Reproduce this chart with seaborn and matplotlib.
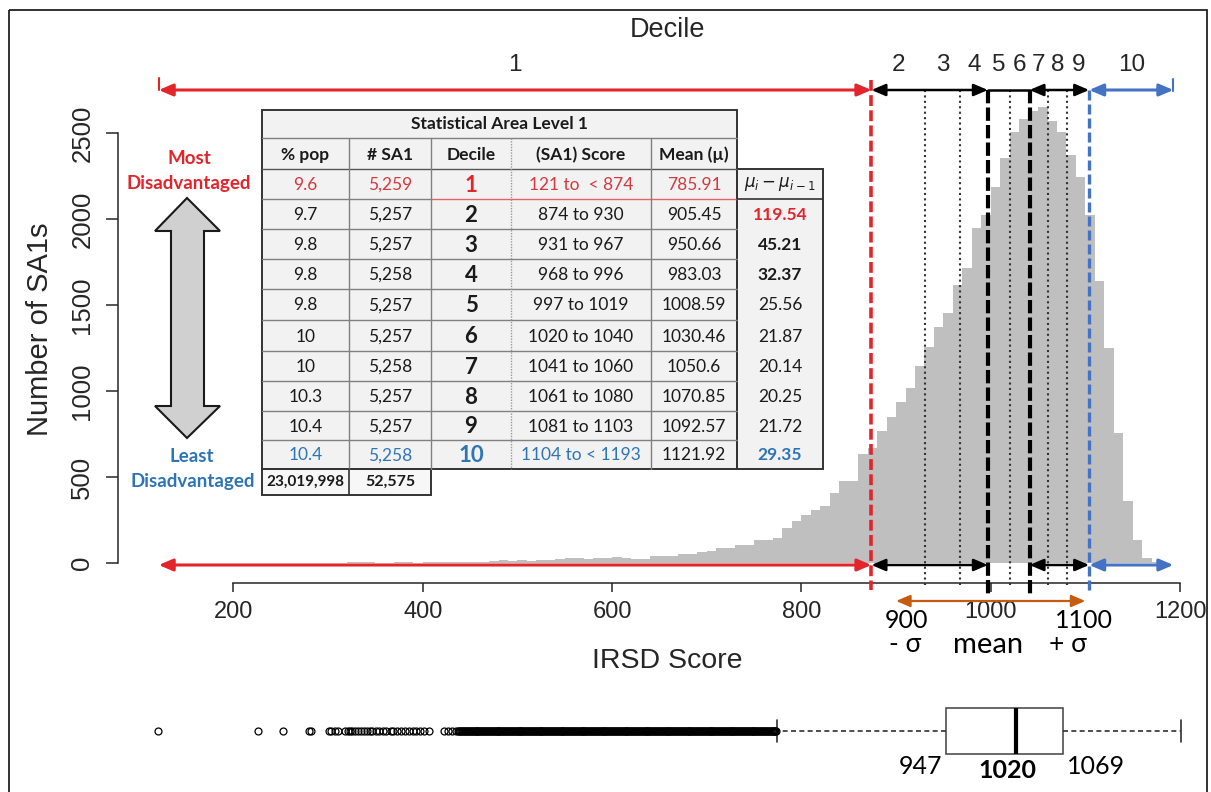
import numpy as np
import pandas as pd
import matplotlib
matplotlib.use("Agg")
import matplotlib.pyplot as plt
import seaborn as sns
from matplotlib.transforms import Affine2D, blended_transform_factory
from matplotlib.patches import Rectangle, Polygon
from matplotlib.lines import Line2D

# ---------------- data ----------------
bin_starts = list(range(120, 1200, 10))
counts = [
    1, 0, 0, 0, 0, 0, 0, 0,                                   # 120-190
    0, 0, 1, 0, 0, 1, 0, 0, 2, 0,                             # 200-290
    4, 3, 5, 5, 5, 4, 4, 5, 5, 4,                             # 300-390
    5, 10, 6, 10, 6, 8, 8, 12, 18, 15,                        # 400-490
    20, 15, 22, 20, 25, 32, 28, 25, 28, 32,                   # 500-590
    38, 32, 25, 23, 40, 43, 43, 52, 57, 65,                   # 600-690
    72, 87, 87, 107, 107, 136, 136, 150, 208, 246,            # 700-790
    281, 310, 333, 407, 478, 478, 634, 669, 769, 849,         # 800-890
    940, 1021, 1149, 1256, 1375, 1457, 1618, 1715, 1948, 2025,  # 900-990
    2190, 2355, 2510, 2581, 2632, 2655, 2573, 2510, 2374, 2248,  # 1000-1090
    2025, 1643, 1250, 759, 362, 135, 29, 8, 3, 1,             # 1100-1190
]

score_min, score_max = 121, 1193
decile_starts = [874, 931, 968, 997, 1020, 1041, 1061, 1081, 1104]
decile_labels = ["1", "2", "3", "4", "5", "6", "7", "8", "9", "10"]

pct_pop = ["9.6", "9.7", "9.8", "9.8", "9.8", "10", "10", "10.3", "10.4", "10.4"]
n_sa1 = ["5,259", "5,257", "5,257", "5,258", "5,257", "5,257", "5,258", "5,257", "5,257", "5,258"]
score_ranges = ["121 to  < 874", "874 to 930", "931 to 967", "968 to 996", "997 to 1019",
                "1020 to 1040", "1041 to 1060", "1061 to 1080", "1081 to 1103", "1104 to < 1193"]
means = ["785.91", "905.45", "950.66", "983.03", "1008.59", "1030.46", "1050.6",
         "1070.85", "1092.57", "1121.92"]
mean_diffs = ["119.54", "45.21", "32.37", "25.56", "21.87", "20.14", "20.25", "21.72", "29.35"]
totals = ["23,019,998", "52,575"]

sigma_marks = [900, 1100]
box_q1, box_med, box_q3 = 947, 1020, 1069
box_whislo, box_whishi = 770, 1193
sparse_outliers = [121, 226, 252, 280, 282, 300, 303, 307, 310, 317, 320, 322, 325, 328,
                   331, 334, 337, 340, 343, 346, 350, 353, 357, 360, 365, 368, 372, 376,
                   380, 384, 389, 392, 396, 400, 405, 421, 425, 429, 433]
dense_outlier_range = (436, 769)   # every integer score in this range is an outlier

# ---------------- style ----------------
sns.set_theme(style="ticks")
plt.rcParams["font.family"] = ["Liberation Sans", "DejaVu Sans"]
CAL = ["Lato", "DejaVu Sans"]
RED = "#e3242b"
RED_T = "#d33a3f"
BLUE = "#4472c4"
BLUE_T = "#2e75b6"
ORANGE = "#c55a11"
TXT = "#262626"

W, H = 1211, 792
fig = plt.figure(figsize=(W / 100, H / 100), dpi=100)
fig.patch.set_facecolor("white")
TP = Affine2D().scale(1 / W, -1 / H).translate(0, 1) + fig.transFigure

# ---------------- histogram ----------------
ax = fig.add_axes([118 / W, 1 - 583 / H, (1200 - 118) / W, (583 - 20) / H])
df = pd.DataFrame({"score": np.array(bin_starts) + 5, "n": counts})
edges = bin_starts + [bin_starts[-1] + 10]
sns.histplot(data=df, x="score", weights="n", bins=edges, color="#bfbfbf",
             alpha=1, edgecolor="none", linewidth=0, ax=ax)
ax.set_xlim(78.0, 1221.1)
ax.set_ylim(-114.5, 3158.7)
ax.set_facecolor("none")
for s in ["top", "right"]:
    ax.spines[s].set_visible(False)
ax.spines["left"].set_bounds(0, 2500)
ax.spines["bottom"].set_bounds(200, 1200)
for s in ["left", "bottom"]:
    ax.spines[s].set_color(TXT)
    ax.spines[s].set_linewidth(1.1)
ax.set_xticks([200, 400, 600, 800, 1000, 1200])
ax.set_yticks([0, 500, 1000, 1500, 2000, 2500])
ax.tick_params(axis="x", direction="out", length=6.5, width=1.1, pad=6.5,
               labelsize=17, colors=TXT)
ax.tick_params(axis="y", direction="out", length=9, width=1.1, pad=8,
               labelsize=18.5, colors=TXT, labelrotation=90)
for lab in ax.get_yticklabels():
    lab.set_verticalalignment("center")
ax.set_xlabel("IRSD Score", fontsize=20.5, color=TXT)
ax.xaxis.set_label_coords(667, 648, transform=TP)
ax.set_ylabel("Number of SA1s", fontsize=21, color=TXT)
ax.yaxis.set_label_coords(54, 329, transform=TP)

blend = blended_transform_factory(ax.transData, TP)

# decile boundary lines
for b in decile_starts:
    if b == decile_starts[0]:
        ax.plot([b, b], [80, 590], transform=blend, clip_on=False, color=RED, lw=2.6,
                ls=(0, (3, 1.2)), zorder=5)
    elif b == decile_starts[-1]:
        ax.plot([b, b], [90, 594], transform=blend, clip_on=False, color=BLUE, lw=2.4,
                ls=(0, (3, 1.2)), zorder=5)
    elif b in (decile_starts[3], decile_starts[5]):
        ax.plot([b, b], [90, 594], transform=blend, clip_on=False, color="black", lw=3,
                ls=(0, (3.2, 1)), zorder=5)
    else:
        ax.plot([b, b], [90, 585], transform=blend, clip_on=False, color="#333333", lw=1.5,
                ls=(0, (1, 1.6)), zorder=5)


def darrow(x0, x1, y, color, lw=2.0, style="<|-|>"):
    ax.annotate("", xy=(x1, y), xytext=(x0, y), xycoords=blend, textcoords=blend,
                arrowprops=dict(arrowstyle=style + ",head_length=0.7,head_width=0.3",
                                color=color, lw=lw, shrinkA=0, shrinkB=0),
                annotation_clip=False, zorder=6)


# top and bottom arrows
for y in (90, 565):
    darrow(score_min, decile_starts[0], y, RED, lw=2.2)
    darrow(decile_starts[0], decile_starts[3], y, "black", lw=1.8)
    darrow(decile_starts[5], decile_starts[8], y, "black", lw=1.8)
    darrow(decile_starts[8], score_max, y, BLUE, lw=2.2)
ax.plot([decile_starts[3], decile_starts[5]], [90, 90], transform=blend, clip_on=False,
        color="black", lw=1.8, zorder=6)
ax.plot([score_min, score_min], [78, 90], transform=blend, clip_on=False, color=RED, lw=1.5)
ax.plot([score_max, score_max], [79, 91], transform=blend, clip_on=False, color=BLUE, lw=1.5)

# decile numbers
bounds = [score_min] + decile_starts + [score_max]
for i, lab in enumerate(decile_labels):
    mid = (bounds[i] + bounds[i + 1]) / 2
    ax.text(mid, 65, lab, transform=blend, ha="center", va="center", fontsize=17.5,
            color=TXT)
fig.text(667, 30, "Decile", transform=TP, ha="center", va="center", fontsize=19.5,
         color=TXT)

# mean +/- sigma annotation
darrow(sigma_marks[0], sigma_marks[1], 601, ORANGE, lw=1.6)
fig.text(906, 621, str(sigma_marks[0]), transform=TP, ha="center", va="center",
         fontsize=18, family=CAL, color="black")
fig.text(1084, 621, str(sigma_marks[1]), transform=TP, ha="center", va="center",
         fontsize=18, family=CAL, color="black")
fig.text(905, 645, "- σ", transform=TP, ha="center", va="center", fontsize=19,
         family=CAL, color="black")
fig.text(988, 645, "mean", transform=TP, ha="center", va="center", fontsize=21,
         family=CAL, color="black")
fig.text(1068, 645, "+ σ", transform=TP, ha="center", va="center", fontsize=19,
         family=CAL, color="black")

# ---------------- boxplot ----------------
ax2 = fig.add_axes([118 / W, 1 - 772 / H, (1200 - 118) / W, (772 - 690) / H])
fliers = sparse_outliers + list(range(dense_outlier_range[0], dense_outlier_range[1] + 1))
stats = [dict(med=box_med, q1=box_q1, q3=box_q3, whislo=box_whislo, whishi=box_whishi,
              fliers=np.array(fliers))]
ax2.bxp(stats, orientation="horizontal", widths=0.56, capwidths=0.27, patch_artist=True,
        boxprops=dict(facecolor="white", edgecolor="#404040", lw=1.1),
        whiskerprops=dict(ls=(0, (3, 2)), color="#303030", lw=1.2),
        capprops=dict(color="#303030", lw=1.2),
        medianprops=dict(color="black", lw=3),
        flierprops=dict(marker="o", mfc="none", mec="black", ms=5, mew=0.9))
ax2.set_xlim((118 - 42) / 0.955, (1200 - 42) / 0.955)
ax2.set_ylim(0.5, 1.5)
ax2.axis("off")
fig.text(920, 767, str(box_q1), transform=TP, ha="center", va="center", fontsize=18,
         family=CAL, color="black")
fig.text(1007, 771, str(box_med), transform=TP, ha="center", va="center", fontsize=18,
         family=CAL, color="black", fontweight="bold")
fig.text(1096, 766, str(box_q3), transform=TP, ha="center", va="center", fontsize=18,
         family=CAL, color="black")

# ---------------- left labels + block arrow ----------------
fig.text(189, 158, "Most", transform=TP, ha="center", va="center", fontsize=13.5,
         family=CAL, color=RED, fontweight="bold")
fig.text(189, 183, "Disadvantaged", transform=TP, ha="center", va="center", fontsize=13.5,
         family=CAL, color=RED, fontweight="bold")
fig.text(192, 456, "Least", transform=TP, ha="center", va="center", fontsize=13.5,
         family=CAL, color=BLUE_T, fontweight="bold")
fig.text(193, 482, "Disadvantaged", transform=TP, ha="center", va="center", fontsize=13.5,
         family=CAL, color=BLUE_T, fontweight="bold")
arrow_pts = [(187, 198), (220, 231), (204, 231), (204, 406), (220, 406), (187, 438),
             (155, 406), (171, 406), (171, 231), (155, 231)]
fig.add_artist(Polygon(arrow_pts, closed=True, transform=TP, fc="#d0d0d0",
                       ec="#1a1a1a", lw=1.5))

# ---------------- table ----------------
col_x = [262, 349, 431, 511, 651, 737]
mu_x = (737, 823)
row_y = [169, 199, 229, 259, 289, 320, 351, 381, 411, 440, 469]
GRID = "#808080"
EDGE = "#333333"


def rect(x0, y0, x1, y1, fc="none", ec="none", lw=1.0):
    fig.add_artist(Rectangle((x0, y0), x1 - x0, y1 - y0, transform=TP, fc=fc, ec=ec,
                             lw=lw))


def hline(x0, x1, y, color=GRID, lw=1.0, ls="-"):
    fig.add_artist(Line2D([x0, x1], [y, y], transform=TP, color=color, lw=lw, ls=ls))


def vline(x, y0, y1, color=GRID, lw=1.0, ls="-"):
    fig.add_artist(Line2D([x, x], [y0, y1], transform=TP, color=color, lw=lw, ls=ls))


def ttext(x, y, s, size=12, color="#1a1a1a", bold=False):
    fig.text(x, y, s, transform=TP, ha="center", va="center", fontsize=size, family=CAL,
             color=color, fontweight="bold" if bold else "normal")


rect(262, 110, 737, 469, fc="#f2f2f2")
rect(mu_x[0], 169, mu_x[1], 469, fc="#f2f2f2")
rect(262, 469, 431, 495, fc="#f7f7f7")
for y in row_y[2:-1]:
    hline(262, 737, y)
hline(262, 431, row_y[1])
hline(431, 737, row_y[1], color="#e06666")
hline(262, 737, 138)
hline(262, 737, 169, color="#555555")
for x in (349, 431, 651):
    vline(x, 138, 469)
vline(511, 138, 469, color="#9a9a9a", ls=(0, (1, 1)))
rect(262, 110, 737, 469, ec=EDGE, lw=1.4)
rect(mu_x[0], 169, mu_x[1], 469, ec=EDGE, lw=1.4)
hline(mu_x[0], mu_x[1], 199, color=EDGE, lw=1.2)
rect(262, 469, 431, 495, ec=EDGE, lw=1.4)
vline(349, 469, 495, color=EDGE, lw=1.2)

ttext((262 + 737) / 2, 124, "Statistical Area Level 1", size=12.5, bold=True)
headers = ["% pop", "# SA1", "Decile", "(SA1) Score", "Mean (µ)"]
for i, h in enumerate(headers):
    ttext((col_x[i] + col_x[i + 1]) / 2, 155, h, size=12.5, bold=True)
ttext((mu_x[0] + mu_x[1]) / 2, 184, r"$\mu_i - \mu_{i-1}$", size=12)

for r in range(10):
    yc = (row_y[r] + row_y[r + 1]) / 2 + 1
    col = RED_T if r == 0 else (BLUE_T if r == 9 else "#1a1a1a")
    dcol = RED if r == 0 else (BLUE_T if r == 9 else "#1a1a1a")
    ttext((col_x[0] + col_x[1]) / 2, yc, pct_pop[r], size=12.5, color=col)
    ttext((col_x[1] + col_x[2]) / 2, yc, n_sa1[r], size=12.5, color=col)
    ttext((col_x[2] + col_x[3]) / 2, yc, decile_labels[r], size=16, color=dcol, bold=True)
    ttext((col_x[3] + col_x[4]) / 2, yc, score_ranges[r], size=12.5, color=col)
    ttext((col_x[4] + col_x[5]) / 2, yc, means[r], size=12.5,
          color=RED_T if r == 0 else "#1a1a1a")
    if r >= 1:
        j = r - 1
        if j == 0:
            c, b = RED, True
        elif j in (1, 2):
            c, b = "#1a1a1a", True
        elif j == 8:
            c, b = BLUE_T, True
        else:
            c, b = "#1a1a1a", False
        ttext((mu_x[0] + mu_x[1]) / 2, yc, mean_diffs[j], size=12.5, color=c, bold=b)

ttext((262 + 349) / 2, 482, totals[0], size=11, bold=True)
ttext((349 + 431) / 2, 482, totals[1], size=11.5, bold=True)

# frame around the figure
fig.add_artist(Rectangle((9, 10), 1198, 790, transform=TP, fc="none", ec="#222222", lw=1.3))

fig.savefig("out.png", dpi=100, facecolor="white")
